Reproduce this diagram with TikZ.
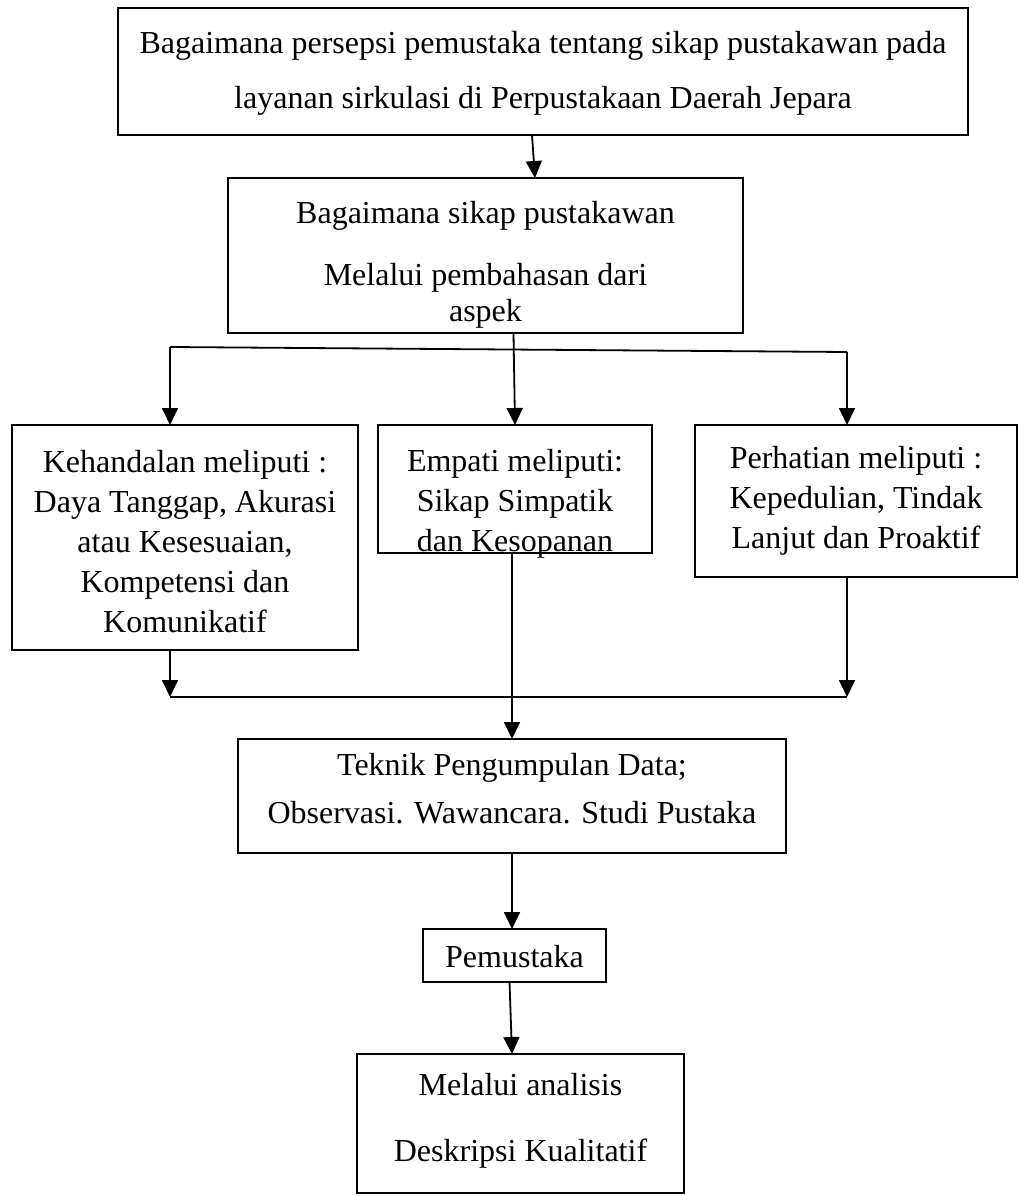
\documentclass[tikz,border=0pt]{standalone}
\usepackage{fontspec}
\setmainfont{Liberation Serif}
\usetikzlibrary{arrows.meta}
\begin{document}
\begin{tikzpicture}[x=1pt,y=-1pt,
  box/.style={draw,line width=1.8pt,inner sep=0pt,outer sep=0pt},
  txt/.style={align=center,inner sep=0pt,font=\fontsize{32}{40}\selectfont},
  arr/.style={line width=1.8pt,-{Triangle[width=16pt,length=17pt]}},
  ln/.style={line width=1.8pt}]
\useasboundingbox (0,0) rectangle (1019,1196);
% boxes
\node[box,minimum width=850pt,minimum height=127pt] (top) at (543,71.5) {};
\node[box,minimum width=515pt,minimum height=155pt] (b2) at (485.5,255.5) {};
\node[box,minimum width=346pt,minimum height=225pt] (k) at (185,537.5) {};
\node[box,minimum width=274pt,minimum height=128pt] (e) at (515,489) {};
\node[box,minimum width=322pt,minimum height=152pt] (p) at (856,501) {};
\node[box,minimum width=548pt,minimum height=114pt] (t) at (512,796) {};
\node[box,minimum width=183pt,minimum height=53pt] (pm) at (514.5,955.5) {};
\node[box,minimum width=327pt,minimum height=139pt] (f) at (520.5,1123.5) {};
% texts
\node[txt] (toptxt) at (543,73) {Bagaimana persepsi pemustaka tentang sikap pustakawan pada\\[15pt]layanan sirkulasi di Perpustakaan Daerah Jepara};
\node[txt] (b2txt) at (485.5,265) {Bagaimana sikap pustakawan\\[22pt]Melalui pembahasan dari\\[-4pt]aspek};
\node[txt] (ktxt) at (185,542) {Kehandalan meliputi :\\Daya Tanggap, Akurasi\\atau Kesesuaian,\\Kompetensi dan\\Komunikatif};
\node[txt] (etxt) at (515,504) {Empati meliputi:\\Sikap Simpatik\\dan Kesopanan};
\node[txt] (ptxt) at (856,501) {Perhatian meliputi :\\Kepedulian, Tindak\\Lanjut dan Proaktif};
\node[txt] (ttxt) at (512,789) {Teknik Pengumpulan Data;\\[8pt]Observasi. Wawancara. Studi Pustaka};
\node[txt] (pmtxt) at (514.5,957) {Pemustaka};
\node[txt] (ftxt) at (520.5,1121) {Melalui analisis\\[26pt]Deskripsi Kualitatif};
% connectors
\draw[arr] ([xshift=-11pt]top.south) -- ([xshift=49.5pt]b2.north);
\draw[arr] ([xshift=28pt]b2.south) -- (e.north);
\coordinate (hl) at (170,347);
\coordinate (hr) at (847,352);
\draw[ln] (hl) -- (hr);
\draw[arr] (hl) -- (hl |- k.north);
\draw[arr] (hr) -- (hr |- p.north);
\coordinate (bl) at (170,697);
\coordinate (br) at (847,697);
\draw[arr] (bl |- k.south) -- (bl);
\draw[arr] (br |- p.south) -- (br);
\draw[ln] (bl) -- (br);
\draw[arr] (t.north |- e.south) -- (t.north);
\draw[arr] (t.south) -- (t.south |- pm.north);
\draw[arr] ([xshift=-5pt]pm.south) -- ([xshift=-8.5pt]f.north);
\end{tikzpicture}
\end{document}
